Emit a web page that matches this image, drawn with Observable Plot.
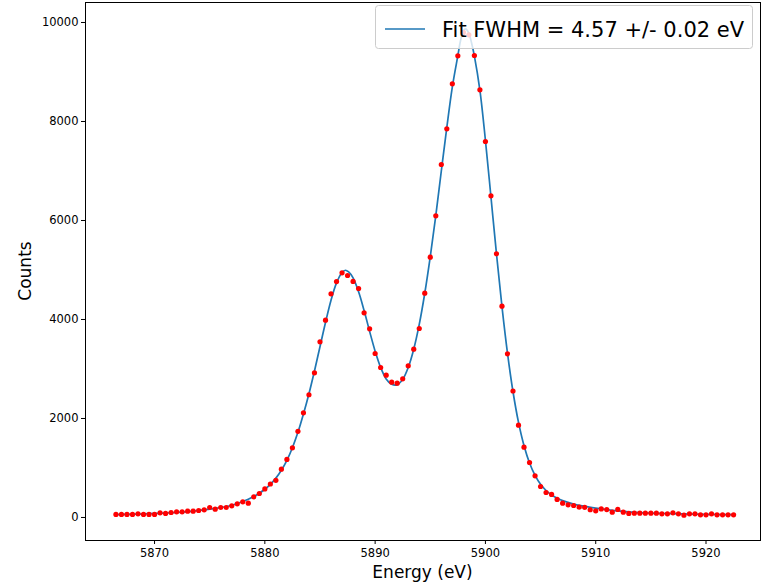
<!DOCTYPE html>
<html><head><meta charset="utf-8">
<script src="https://cdn.jsdelivr.net/npm/d3@7"></script>
<script src="https://cdn.jsdelivr.net/npm/@observablehq/plot@0.6"></script>
<style>body{margin:0;background:#fff;} svg{font-family:"DejaVu Sans";}</style>
</head><body><div id="chart"></div>
<script>
const energy = [
5866.5,5867,5867.5,5868,5868.5,5869,5869.5,5870,5870.5,5871,
5871.5,5872,5872.5,5873,5873.5,5874,5874.5,5875,5875.5,5876,
5876.5,5877,5877.5,5878,5878.5,5879,5879.5,5880,5880.5,5881,
5881.5,5882,5882.5,5883,5883.5,5884,5884.5,5885,5885.5,5886,
5886.5,5887,5887.5,5888,5888.5,5889,5889.5,5890,5890.5,5891,
5891.5,5892,5892.5,5893,5893.5,5894,5894.5,5895,5895.5,5896,
5896.5,5897,5897.5,5898,5898.5,5899,5899.5,5900,5900.5,5901,
5901.5,5902,5902.5,5903,5903.5,5904,5904.5,5905,5905.5,5906,
5906.5,5907,5907.5,5908,5908.5,5909,5909.5,5910,5910.5,5911,
5911.5,5912,5912.5,5913,5913.5,5914,5914.5,5915,5915.5,5916,
5916.5,5917,5917.5,5918,5918.5,5919,5919.5,5920,5920.5,5921,
5921.5,5922,5922.5];
const counts = [
61,61,61,61,74,61,61,61,94,81,
101,114,114,128,128,141,155,202,168,202,
202,236,276,316,289,418,485,576,676,750,
976,1172,1408,1740,2115,2480,2923,3549,3986,4519,
4765,4943,4889,4768,4626,4135,3812,3313,3030,2875,
2733,2713,2802,3064,3400,3818,4531,5259,6095,7131,
7852,8761,9327,9800,9750,9333,8640,7596,6499,5327,
4269,3307,2555,1865,1421,1111,842,626,505,465,
364,289,256,242,208,205,156,135,172,159,
107,162,107,81,88,88,88,88,88,74,
74,94,74,47,74,74,54,54,74,54,
54,54,54];
const fitEnergy = [5866.5,5867.5,5868.5,5869.5,5870.5,5871.5,5872.5,5873.5,5874.5,5875.5,5876.5,5877,5877.5,5878,5878.5,5879,5879.5,5880,5880.5,5881,5881.5,5882,5882.5,5883,5883.5,5884,5884.5,5885,5885.5,5886,5886.5,5887,5887.3,5887.6,5888,5888.5,5889,5889.5,5890,5890.5,5891,5891.5,5892,5892.5,5893,5893.5,5894,5894.5,5895,5895.5,5896,5896.5,5897,5897.5,5897.75,5898,5898.2,5898.5,5898.75,5899,5899.5,5900,5900.5,5901,5901.5,5902,5902.5,5903,5903.5,5904,5904.5,5905,5905.5,5906,5906.5,5907,5908,5909,5910,5911,5912,5913,5914,5915,5916,5917,5918,5919,5920,5921,5922,5922.5];
const fitCounts = [58,63,69,76,85,96,110,128,152,183,222,248,282,322,368,423,490,570,670,795,955,1155,1410,1720,2090,2500,2960,3450,3940,4390,4740,4950,4995,4960,4840,4560,4180,3760,3360,3030,2800,2690,2680,2790,3030,3400,3900,4530,5270,6100,7000,7880,8700,9330,9640,9830,9870,9780,9580,9320,8630,7620,6480,5330,4260,3320,2540,1920,1450,1100,850,670,545,455,390,340,270,225,190,160,135,115,100,90,82,76,71,67,63,60,58,57];
const xTicks = [5870,5880,5890,5900,5910,5920];
const yTicks = [0,2000,4000,6000,8000,10000];
const legendLabel = "Fit FWHM = 4.57 +/- 0.02 eV";
const xLabel = "Energy (eV)";
const yLabel = "Counts";

const points = energy.map((e,i)=>({e, c: counts[i]}));
const fit = fitEnergy.map((e,i)=>({e, c: fitCounts[i]}));

const W=762,H=585, mL=85, mR=2, mT=2, mB=45;
const plot = Plot.plot({
  width:W, height:H, marginLeft:mL, marginRight:mR, marginTop:mT, marginBottom:mB,
  style:{fontFamily:"DejaVu Sans", fontSize:"11px", background:"#fff", color:"#000", overflow:"visible"},
  x:{domain:[5863.74,5924.94]},
  y:{domain:[-465,10404]},
  marks:[
    Plot.line(fit,{x:"e",y:"c",stroke:"#1f77b4",strokeWidth:1.7, curve:"catmull-rom"}),
    Plot.dot(points,{x:"e",y:"c",r:2.6,fill:"#ff0000"}),
    Plot.frame({stroke:"#000", strokeWidth:1}),
    Plot.axisX(xTicks, {tickSize:4, tickPadding:4, fontSize:11.5, label:null, tickFormat:d=>String(d)}),
    Plot.axisY(yTicks, {tickSize:4, tickPadding:3, fontSize:11.5, label:null, tickFormat:d=>String(d)})
  ]
});
document.getElementById("chart").appendChild(plot);
const svg = d3.select(plot);
svg.append("text").attr("x",(mL+W-mR)/2).attr("y",578).attr("text-anchor","middle")
  .attr("font-size",17).attr("fill","#000").text(xLabel);
svg.append("text").attr("transform",`translate(31,${(mT+H-mB)/2}) rotate(-90)`).attr("text-anchor","middle")
  .attr("font-size",17).attr("fill","#000").text(yLabel);
const lg = svg.append("g").attr("text-anchor","start");
lg.append("rect").attr("x",375.5).attr("y",5.5).attr("width",377).attr("height",43).attr("rx",3)
  .attr("fill","#fff").attr("fill-opacity",0.8).attr("stroke","#cccccc");
lg.append("line").attr("x1",385).attr("x2",425).attr("y1",29).attr("y2",29)
  .attr("stroke","#1f77b4").attr("stroke-width",1.7);
lg.append("text").attr("x",442).attr("y",37).attr("text-anchor","start").attr("font-size",21).attr("fill","#000").text(legendLabel);
</script></body></html>
